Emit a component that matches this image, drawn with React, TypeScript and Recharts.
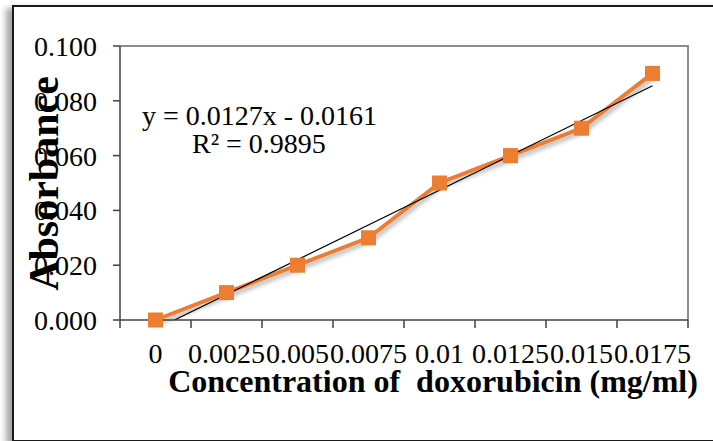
import React from 'react';
import { LineChart, Line, XAxis, YAxis, Customized } from 'recharts';

// values
const concentrations = ['0', '0.0025', '0.005', '0.0075', '0.01', '0.0125', '0.015', '0.0175'];
const absorbance = [0, 0.01, 0.02, 0.03, 0.05, 0.06, 0.07, 0.09];
// linear trendline, value at first and last category (drawn straight between them)
const trendEnds = [-0.0034, 0.0855];
const yTicks = [0, 0.02, 0.04, 0.06, 0.08, 0.1];
const equationLines = ['y = 0.0127x - 0.0161', 'R² = 0.9895'];
const xTitle = 'Concentration of  doxorubicin (mg/ml)';
const yTitle = 'Absorbance';

const data = concentrations.map((c, i) => ({
    conc: c,
    abs: absorbance[i],
    trend: i === 0 ? trendEnds[0] : i === concentrations.length - 1 ? trendEnds[1] : null,
}));

const W = 713;
const H = 441;
const margin = { top: 46, right: 25, bottom: 0, left: 0 };
const Y_AXIS_W = 120;
const X_AXIS_H = 121;
const plotLeft = margin.left + Y_AXIS_W;
const plotRight = W - margin.right;
const plotTop = margin.top;
const plotBottom = H - margin.bottom - X_AXIS_H;
const band = (plotRight - plotLeft) / concentrations.length;

const serif = '"Liberation Serif", "Times New Roman", serif';
const orange = '#ED7D31';
const axisGrey = '#404040';
const FS = 28;

const XTick = (props: any) => {
    const { x, payload, index } = props;
    const left = x - band / 2;
    const isLast = index === concentrations.length - 1;
    return (
        <g>
            <line x1={left} y1={plotBottom} x2={left} y2={plotBottom + 8} stroke={axisGrey} strokeWidth={1.5} />
            {isLast && (
                <line x1={x + band / 2} y1={plotBottom} x2={x + band / 2} y2={plotBottom + 8} stroke={axisGrey} strokeWidth={1.5} />
            )}
            <text x={x} y={plotBottom + 43} textAnchor="middle" fontSize={FS} fontFamily={serif} fill="#000">
                {payload.value}
            </text>
        </g>
    );
};

const SquareDot = (props: any) => {
    const { cx, cy, index } = props;
    if (cx == null || cy == null) return null;
    return <rect key={`dot-${index}`} x={cx - 7.5} y={cy - 7.5} width={15} height={15} fill={orange} />;
};

const Decorations = () => (
    <g>
        <defs>
            <filter id="lineShadow" x="-10%" y="-10%" width="130%" height="130%">
                <feDropShadow dx="2" dy="3" stdDeviation="2" floodColor="#000" floodOpacity="0.3" />
            </filter>
        </defs>
        {/* plot area frame, top and right */}
        <line x1={plotLeft} y1={plotTop} x2={plotRight + 1} y2={plotTop} stroke="#8c8c8c" strokeWidth={2} />
        <line x1={plotRight} y1={plotTop} x2={plotRight} y2={plotBottom} stroke="#8c8c8c" strokeWidth={2} />
        <text x={142} y={125} fontSize={FS} fontFamily={serif} fill="#000">
            {equationLines[0]}
        </text>
        <text x={192} y={153} fontSize={FS} fontFamily={serif} fill="#000">
            {equationLines[1]}
        </text>
        <text x={433} y={392} textAnchor="middle" fontSize={32} fontWeight="bold" fontFamily={serif} fill="#000" style={{ whiteSpace: 'pre' }}>
            {xTitle}
        </text>
        <text
            x={58}
            y={183.5}
            transform="rotate(-90 58 183.5)"
            textAnchor="middle"
            fontSize={42}
            fontWeight="bold"
            fontFamily={serif}
            fill="#000"
        >
            {yTitle}
        </text>
    </g>
);

const App: React.FC = () => {
    return (
        <div style={{ position: 'absolute', left: 0, top: 0, width: W, height: H, background: '#fff', overflow: 'hidden' }}>
            <style>{`.abs-line { filter: url(#lineShadow); }`}</style>
            <div
                style={{
                    position: 'absolute',
                    left: 12,
                    top: 5,
                    width: W + 20,
                    height: H - 8,
                    border: '2px solid #1a1a1a',
                    boxShadow: '-6px 3px 6px rgba(0,0,0,0.35)',
                    background: '#fff',
                }}
            />
            <div style={{ position: 'absolute', left: 0, top: 0 }}>
                <LineChart width={W} height={H} data={data} margin={margin}>
                    <XAxis
                        dataKey="conc"
                        interval={0}
                        height={X_AXIS_H}
                        padding={{ left: band / 2, right: band / 2 }}
                        tick={<XTick />}
                        tickLine={false}
                        axisLine={{ stroke: axisGrey, strokeWidth: 1.5 }}
                    />
                    <YAxis
                        yAxisId="main"
                        width={Y_AXIS_W}
                        domain={[0, 0.1]}
                        ticks={yTicks}
                        interval={0}
                        tickFormatter={(v: number) => v.toFixed(3)}
                        tickSize={7}
                        tickMargin={16}
                        tick={{ fontSize: FS, fontFamily: serif, fill: '#000' }}
                        axisLine={{ stroke: axisGrey, strokeWidth: 1.5 }}
                        tickLine={{ stroke: axisGrey, strokeWidth: 1.5 }}
                    />
                    <YAxis yAxisId="trend" hide domain={[0, 0.1]} allowDataOverflow />
                    <Customized component={Decorations} />
                    <Line
                        yAxisId="main"
                        className="abs-line"
                        dataKey="abs"
                        stroke={orange}
                        strokeWidth={4}
                        dot={<SquareDot />}
                        activeDot={false}
                        isAnimationActive={false}
                    />
                    <Line
                        yAxisId="trend"
                        dataKey="trend"
                        stroke="#000"
                        strokeWidth={1.2}
                        dot={false}
                        activeDot={false}
                        connectNulls
                        isAnimationActive={false}
                    />
                </LineChart>
            </div>
        </div>
    );
};

export default App;
